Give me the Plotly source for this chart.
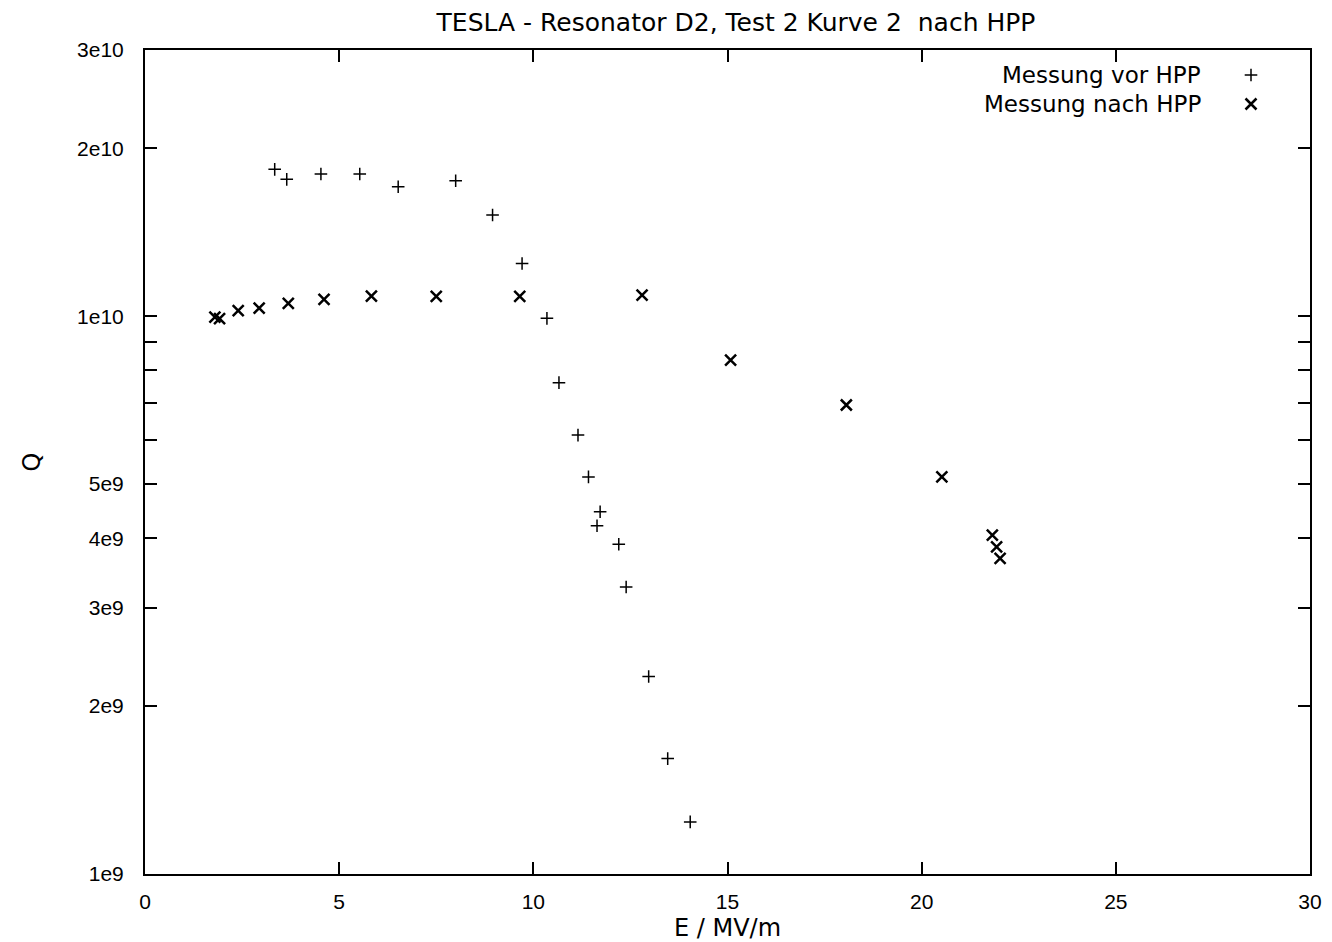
import math
import plotly.graph_objects as go

# Messung vor HPP: field E (MV/m) and quality factor Q
e_vor = [3.34, 3.65, 4.53, 5.53, 6.52, 8.00, 8.95, 9.71, 10.35, 10.66,
         11.15, 11.42, 11.72, 11.64, 12.20, 12.39, 12.97, 13.46, 14.04]
q_vor = [1.833e10, 1.759e10, 1.798e10, 1.798e10, 1.706e10, 1.749e10, 1.518e10,
         1.243e10, 9.91e9, 7.60e9, 6.12e9, 5.15e9, 4.46e9, 4.21e9, 3.90e9,
         3.27e9, 2.26e9, 1.61e9, 1.24e9]

# Messung nach HPP
e_nach = [1.80, 1.92, 2.40, 2.94, 3.69, 4.61, 5.83, 7.50, 9.65, 12.80,
          15.08, 18.06, 20.52, 21.82, 21.93, 22.02]
q_nach = [9.96e9, 9.90e9, 1.023e10, 1.034e10, 1.054e10, 1.072e10, 1.086e10,
          1.085e10, 1.085e10, 1.091e10, 8.34e9, 6.93e9, 5.15e9, 4.05e9,
          3.86e9, 3.68e9]

# axis ticks
x_ticks = [0, 5, 10, 15, 20, 25, 30]
y_tickvals = [1e9, 2e9, 3e9, 4e9, 5e9, 6e9, 7e9, 8e9, 9e9, 1e10, 2e10, 3e10]
y_ticktext = ["1e9", "2e9", "3e9", "4e9", "5e9", "", "", "", "", "1e10", "2e10", "3e10"]

labels = ["Messung vor HPP", "Messung nach HPP"]

W, H = 1332, 942
L, R, T, B = 145, 22, 50, 68
FONT = "DejaVu Sans"
TICKFONT = "Liberation Sans"

fig = go.Figure()

fig.add_trace(go.Scatter(
    x=e_vor, y=q_vor, mode="markers", name=labels[0], showlegend=False,
    marker=dict(symbol="cross-thin", size=9, color="black",
                line=dict(color="black", width=1.5)),
))
fig.add_trace(go.Scatter(
    x=e_nach, y=q_nach, mode="markers", name=labels[1], showlegend=False,
    marker=dict(symbol="x-thin", size=11, color="black",
                line=dict(color="black", width=2.5)),
))

# key in the upper right: right-aligned text with the symbol after it
pw, ph = W - L - R, H - T - B
key_rows = [75, 104]
key_text_x = (1202 - L) / pw
key_sym_x = (1251 - L) / pw
for lab, row, sym, sz, lw in zip(labels, key_rows,
                                 ["cross-thin", "x-thin"], [9, 11], [1.5, 2.5]):
    yp = (H - B - row) / ph
    fig.add_annotation(x=key_text_x, y=yp, xref="paper", yref="paper",
                       text=lab, showarrow=False, xanchor="right",
                       yanchor="middle", borderpad=0,
                       font=dict(family=FONT, size=23, color="black"))
    fig.add_trace(go.Scatter(
        x=[key_sym_x], y=[yp], xaxis="x2", yaxis="y2", mode="markers",
        showlegend=False, hoverinfo="skip",
        marker=dict(symbol=sym, size=sz, color="black",
                    line=dict(color="black", width=lw)),
    ))

axis_common = dict(
    showline=True, linecolor="black", linewidth=2, mirror="ticks",
    ticks="inside", ticklen=12, tickwidth=1.5, tickcolor="black",
    showgrid=False, zeroline=False, automargin=False,
    tickfont=dict(family=TICKFONT, size=21, color="black"),
)

fig.update_layout(
    width=W, height=H,
    margin=dict(l=L, r=R, t=T, b=B, autoexpand=False),
    paper_bgcolor="white", plot_bgcolor="white",
    showlegend=False,
    title=dict(text="TESLA - Resonator D2, Test 2 Kurve 2  nach HPP",
               x=(736 - L) / pw, xref="paper", xanchor="center",
               y=1 - 22 / H, yref="container", yanchor="middle",
               automargin=False,
               font=dict(family=FONT, size=25, color="black")),
    xaxis=dict(range=[0, 30], tickvals=x_ticks, ticklabelstandoff=8,
               title=dict(text="E / MV/m", standoff=10,
                          font=dict(family=FONT, size=24, color="black")),
               **axis_common),
    yaxis=dict(type="log", range=[9, math.log10(3e10)],
               tickvals=y_tickvals, ticktext=y_ticktext, ticklabelstandoff=15,
               title=dict(text="Q", standoff=30,
                          font=dict(family=FONT, size=24, color="black")),
               **axis_common),
    xaxis2=dict(range=[0, 1], overlaying="x", visible=False, fixedrange=True),
    yaxis2=dict(range=[0, 1], overlaying="y", visible=False, fixedrange=True),
)

fig.write_html("out.html")
